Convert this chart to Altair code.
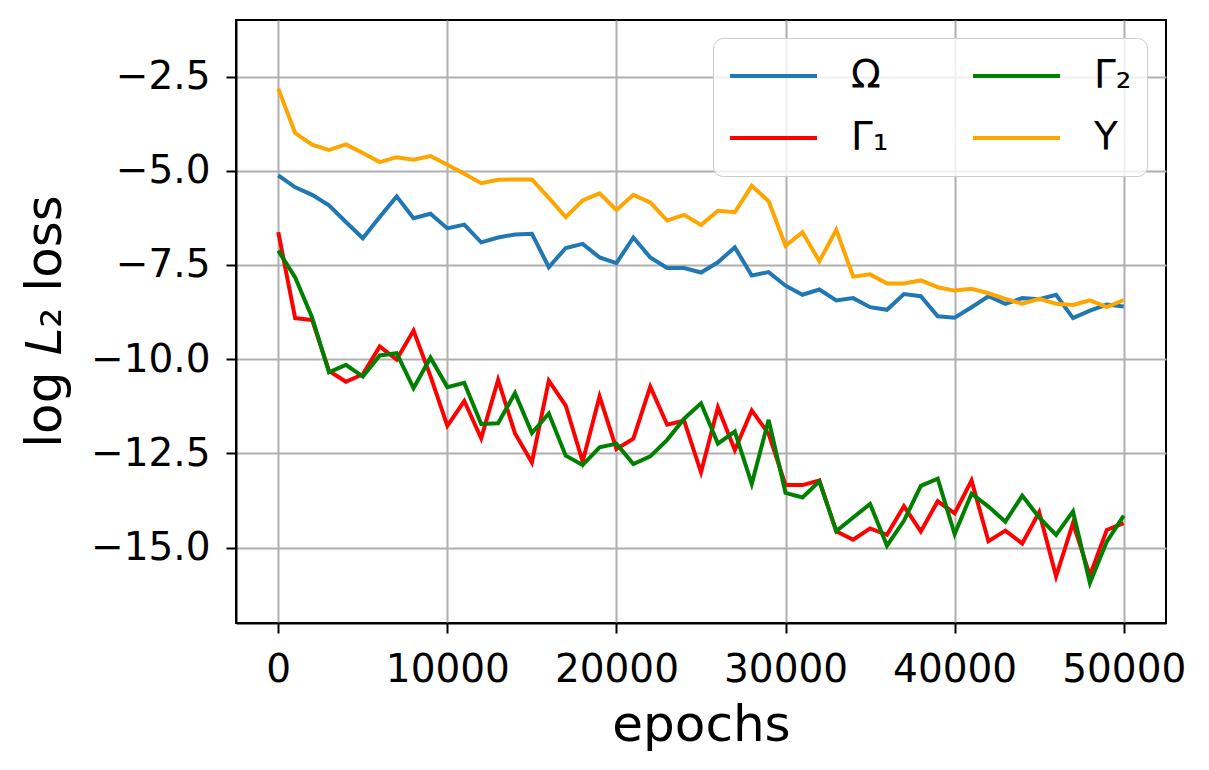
import altair as alt
import pandas as pd

epochs = list(range(0, 50001, 1000))

omega = [-5.12, -5.44, -5.64, -5.92, -6.36, -6.79, -6.23, -5.68, -6.26, -6.14,
         -6.53, -6.43, -6.90, -6.77, -6.69, -6.67, -7.56, -7.05, -6.94, -7.30,
         -7.45, -6.77, -7.30, -7.58, -7.58, -7.70, -7.43, -7.03, -7.78, -7.69,
         -8.05, -8.29, -8.15, -8.44, -8.38, -8.62, -8.69, -8.27, -8.33, -8.86,
         -8.90, -8.62, -8.33, -8.53, -8.38, -8.41, -8.29, -8.91, -8.71, -8.55, -8.60]

gamma1 = [-6.63, -8.91, -8.96, -10.31, -10.60, -10.40, -9.66, -10.01, -9.24, -10.45,
          -11.77, -11.11, -12.10, -10.55, -11.97, -12.74, -10.57, -11.23, -12.72, -10.99,
          -12.38, -12.11, -10.73, -11.74, -11.63, -13.00, -11.28, -12.41, -11.36, -11.98,
          -13.34, -13.34, -13.22, -14.57, -14.79, -14.49, -14.66, -13.90, -14.57, -13.77,
          -14.09, -13.22, -14.83, -14.55, -14.89, -14.06, -15.76, -14.35, -15.74, -14.53, -14.35]

gamma2 = [-7.12, -7.83, -8.89, -10.35, -10.15, -10.46, -9.90, -9.84, -10.77, -9.96,
          -10.74, -10.63, -11.72, -11.70, -10.90, -11.96, -11.44, -12.56, -12.81, -12.34,
          -12.24, -12.78, -12.58, -12.14, -11.58, -11.17, -12.24, -11.92, -13.31, -11.61,
          -13.55, -13.67, -13.24, -14.56, -14.20, -13.84, -14.95, -14.29, -13.36, -13.17,
          -14.64, -13.57, -13.91, -14.31, -13.62, -14.20, -14.66, -14.04, -15.94, -14.84, -14.15]

upsilon = [-2.82, -4.00, -4.31, -4.45, -4.30, -4.53, -4.77, -4.64, -4.71, -4.61,
           -4.84, -5.08, -5.33, -5.24, -5.23, -5.23, -5.72, -6.23, -5.79, -5.60,
           -6.04, -5.64, -5.84, -6.32, -6.17, -6.44, -6.06, -6.10, -5.40, -5.81,
           -6.99, -6.63, -7.40, -6.57, -7.81, -7.75, -7.99, -7.99, -7.91, -8.09,
           -8.18, -8.13, -8.25, -8.40, -8.53, -8.40, -8.53, -8.56, -8.44, -8.62, -8.43]

series_names = ["Ω", "Γ₁", "Γ₂", "Υ"]
series_colors = ["#1f77b4", "#ff0000", "#008000", "#ffa500"]

x_ticks = [0, 10000, 20000, 30000, 40000, 50000]
y_ticks = [-15.0, -12.5, -10.0, -7.5, -5.0, -2.5]

rows = []
for name, vals in zip(series_names, [omega, gamma1, gamma2, upsilon]):
    for e, v in zip(epochs, vals):
        rows.append({"epoch": e, "loss": v, "series": name})
df = pd.DataFrame(rows)

color_scale = alt.Scale(domain=series_names, range=series_colors)

FONT = "DejaVu Sans"

x_enc = alt.X(
    "epoch:Q",
    scale=alt.Scale(domain=[-2500, 52500], nice=False, zero=False),
    axis=alt.Axis(
        values=x_ticks, format="d", title="epochs",
        labelFontSize=39, labelPadding=17, labelFlush=False, labelOverlap=False,
        titleFontSize=50, titleFontWeight="normal", titleBaseline="alphabetic",
        titleY=117,
    ),
)
y_enc = alt.Y(
    "loss:Q",
    scale=alt.Scale(domain=[-17, -1], nice=False, zero=False),
    axis=alt.Axis(
        values=y_ticks,
        labelExpr="replace(format(datum.value, '.1f'), '-', '−')",
        title="log 𝐿₂ loss",
        labelFontSize=39, labelPadding=16, labelFlush=False, labelOverlap=False,
        titleFontSize=50, titleFontWeight="normal", titleBaseline="alphabetic",
        titleAngle=270, titleAlign="center", titleX=-176, titleY=301,
    ),
)
color_enc = alt.Color(
    "series:N",
    scale=color_scale,
    legend=alt.Legend(
        orient="none", legendX=477, legendY=18, columns=2, title=None,
        symbolType="stroke", symbolStrokeWidth=4, symbolSize=7569,
        clipHeight=46, rowPadding=16, columnPadding=82,
        labelFontSize=39, labelFont=FONT, labelOffset=32, labelColor="black",
        padding=15, fillColor="rgba(255,255,255,0.8)", strokeColor="#cccccc",
        cornerRadius=10,
    ),
)

base = alt.Chart(df).mark_line(strokeWidth=4).encode(x=x_enc, y=y_enc, color=color_enc)
layers = [base.transform_filter(alt.datum.series == n) for n in series_names]

chart = alt.layer(*layers).properties(
    width=930, height=603,
    autosize="none",
    padding={"left": 228, "top": 12, "right": 30, "bottom": 140},
).configure(font=FONT).configure_view(
    stroke="black", strokeWidth=2
).configure_axis(
    domainColor="black", domainWidth=2,
    tickColor="black", tickWidth=2, tickSize=10,
    gridColor="#b0b0b0", gridWidth=2, gridOpacity=1,
    labelColor="black", titleColor="black", labelFont=FONT, titleFont=FONT,
)

chart.save("out.html", embed_options={"renderer": "svg", "actions": False})
